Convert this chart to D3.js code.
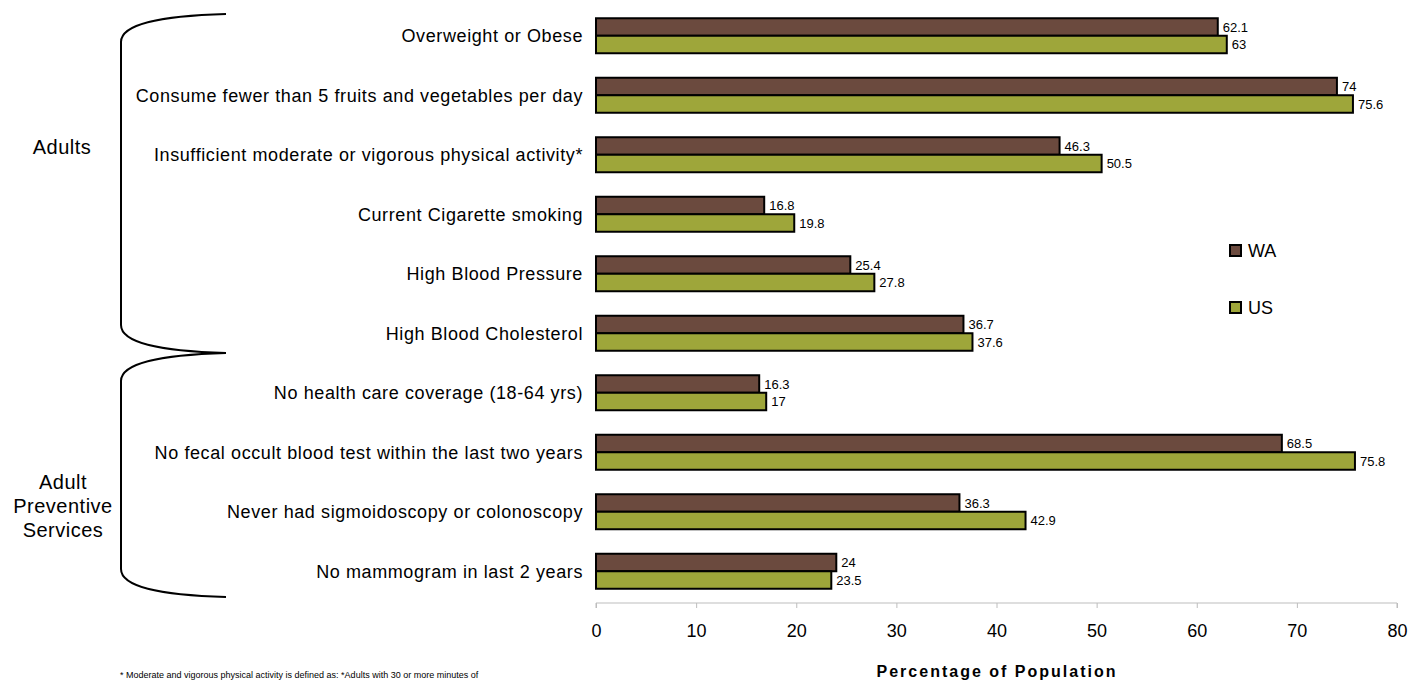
<!DOCTYPE html>
<html>
<head>
<meta charset="utf-8">
<script src="https://cdn.jsdelivr.net/npm/d3@7"></script>
<style>
  body { margin: 0; background: #fff; }
  svg { display: block; }
  text { font-family: "Liberation Sans", Arial, sans-serif; }
</style>
</head>
<body>
<svg id="chart" width="1421" height="681"></svg>
<script>
// categories, top to bottom
const categories = [
    "Overweight or Obese",
    "Consume fewer than 5 fruits and vegetables per day",
    "Insufficient moderate or vigorous physical activity*",
    "Current Cigarette smoking",
    "High Blood Pressure",
    "High Blood Cholesterol",
    "No health care coverage (18-64 yrs)",
    "No fecal occult blood test within the last two years",
    "Never had sigmoidoscopy or colonoscopy",
    "No mammogram in last 2 years"
];
const seriesNames = ["WA", "US"];
const waValues = [62.1, 74, 46.3, 16.8, 25.4, 36.7, 16.3, 68.5, 36.3, 24];
const usValues = [63, 75.6, 50.5, 19.8, 27.8, 37.6, 17, 75.8, 42.9, 23.5];
const xTicks = [0, 10, 20, 30, 40, 50, 60, 70, 80];
const groups = [
    { lines: ["Adults"], y0: 14, y1: 353, labelX: 62, labelY: 147 },
    { lines: ["Adult", "Preventive", "Services"], y0: 353, y1: 597, labelX: 63, labelY: 506 }
];
const colors = { WA: "#6b4a3e", US: "#9ea63a" };

const svg = d3.select("#chart");

const x = d3.scaleLinear().domain([0, 80]).range([596, 1397]);
const y = d3.scaleBand().domain(categories).range([6, 601]).padding(0);
const barH = 17.5;
const sub = d3.scaleBand().domain(seriesNames)
    .range([y.bandwidth() / 2 - barH, y.bandwidth() / 2 + barH]);

const rows = categories.map((c, i) => ({ cat: c, WA: waValues[i], US: usValues[i] }));

// x axis
const xAxis = svg.append("g")
    .attr("transform", "translate(0,603)")
    .call(d3.axisBottom(x).tickValues(xTicks).tickSize(5).tickPadding(16).tickFormat(d3.format("d")));
xAxis.select(".domain").attr("stroke", "#bdbdbd").attr("d", `M${x(0)},5V0H${x(80)}V5`);
xAxis.selectAll(".tick line").attr("stroke", "#bdbdbd");
xAxis.selectAll(".tick text")
    .attr("font-family", null)
    .attr("font-size", 18)
    .attr("fill", "#000");

svg.append("text")
    .attr("x", 997).attr("y", 677)
    .attr("text-anchor", "middle")
    .attr("font-size", 16)
    .attr("font-weight", "bold")
    .attr("letter-spacing", 2)
    .text("Percentage of Population");

// bars
const rowG = svg.append("g").selectAll("g")
    .data(rows)
    .join("g")
    .attr("transform", d => `translate(0,${y(d.cat)})`);

seriesNames.forEach(s => {
    rowG.append("rect")
        .attr("x", x(0))
        .attr("y", sub(s))
        .attr("width", d => x(d[s]) - x(0))
        .attr("height", sub.bandwidth())
        .attr("fill", colors[s])
        .attr("stroke", "#000")
        .attr("stroke-width", 2);

    rowG.append("text")
        .attr("x", d => x(d[s]) + 5)
        .attr("y", sub(s) + sub.bandwidth() / 2)
        .attr("dy", "0.35em")
        .attr("font-size", 13)
        .text(d => d[s]);
});

// category labels
rowG.append("text")
    .attr("x", 583)
    .attr("y", y.bandwidth() / 2)
    .attr("dy", "0.35em")
    .attr("text-anchor", "end")
    .attr("font-size", 18)
    .attr("letter-spacing", 0.6)
    .text(d => d.cat);

// group brackets
const bx = 121, ex = 226;
groups.forEach(g => {
    const p = d3.path();
    p.moveTo(ex, g.y0);
    p.bezierCurveTo(160, g.y0 + 2, bx, g.y0 + 10, bx, g.y0 + 28);
    p.lineTo(bx, g.y1 - 28);
    p.bezierCurveTo(bx, g.y1 - 10, 160, g.y1 - 2, ex, g.y1);
    svg.append("path")
        .attr("d", p.toString())
        .attr("fill", "none")
        .attr("stroke", "#000")
        .attr("stroke-width", 2);

    const lh = 24;
    svg.append("text")
        .attr("text-anchor", "middle")
        .attr("font-size", 20)
        .attr("letter-spacing", 0.5)
        .selectAll("tspan")
        .data(g.lines)
        .join("tspan")
        .attr("x", g.labelX)
        .attr("y", (d, i) => g.labelY + (i - (g.lines.length - 1) / 2) * lh)
        .attr("dy", "0.35em")
        .text(d => d);
});

// legend
const legend = svg.append("g").selectAll("g")
    .data(seriesNames)
    .join("g")
    .attr("transform", (d, i) => `translate(1230,${245 + i * 57})`);
legend.append("rect")
    .attr("width", 11).attr("height", 11)
    .attr("fill", d => colors[d])
    .attr("stroke", "#000")
    .attr("stroke-width", 2);
legend.append("text")
    .attr("x", 18).attr("y", 6)
    .attr("dy", "0.35em")
    .attr("font-size", 18)
    .text(d => d);

// footnote (sits right at the bottom edge)
svg.append("text")
    .attr("x", 120).attr("y", 678)
    .attr("font-size", 9)
    .text("* Moderate and vigorous physical activity is defined as:  *Adults with 30 or more minutes of");
</script>
</body>
</html>
